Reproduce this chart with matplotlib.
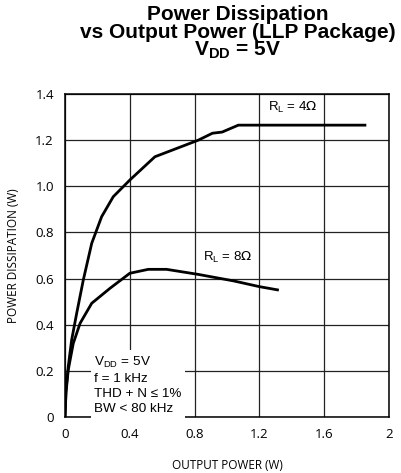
import matplotlib
matplotlib.use('Agg')
import matplotlib.pyplot as plt

# RL = 4 ohm curve
p_out_4 = [0.0, 0.006, 0.02, 0.041, 0.072, 0.113, 0.165, 0.226, 0.298, 0.40, 0.555, 0.823, 0.91, 0.97, 1.07, 1.86]
p_dis_4 = [0.0, 0.117, 0.218, 0.334, 0.449, 0.594, 0.753, 0.868, 0.955, 1.027, 1.128, 1.2, 1.23, 1.235, 1.265, 1.265]

# RL = 8 ohm curve
p_out_8 = [0.0, 0.006, 0.02, 0.051, 0.093, 0.165, 0.278, 0.40, 0.514, 0.627, 0.823, 1.04, 1.2, 1.32]
p_dis_8 = [0.0, 0.104, 0.204, 0.319, 0.406, 0.493, 0.558, 0.623, 0.64, 0.64, 0.618, 0.59, 0.565, 0.55]

xticks = [0, 0.4, 0.8, 1.2, 1.6, 2]
xtick_labels = ['0', '0.4', '0.8', '1.2', '1.6', '2']
yticks = [0, 0.2, 0.4, 0.6, 0.8, 1.0, 1.2, 1.4]
ytick_labels = ['0', '0.2', '0.4', '0.6', '0.8', '1.0', '1.2', '1.4']

fig = plt.figure(figsize=(4.02, 4.73), dpi=100)
ax = fig.add_axes([65/402, 1 - 417/473, 324/402, 323/473])

ax.plot(p_out_4, p_dis_4, color='black', lw=2.0, zorder=3, solid_capstyle='butt')
ax.plot(p_out_8, p_dis_8, color='black', lw=2.0, zorder=3, solid_capstyle='butt')

ax.set_xlim(0, 2)
ax.set_ylim(0, 1.4)
ax.set_xticks(xticks)
ax.set_xticklabels(xtick_labels)
ax.set_yticks(yticks)
ax.set_yticklabels(ytick_labels)
ax.tick_params(length=0, pad=8, labelsize=9.5)
for lbl in ax.get_xticklabels() + ax.get_yticklabels():
    lbl.set_family('Open Sans')
ax.grid(True, color='#222222', lw=0.9, zorder=1)
for s in ax.spines.values():
    s.set_linewidth(1.1)

ax.set_xlabel('OUTPUT POWER (W)', fontsize=8.5, family='Open Sans', labelpad=13)
ax.set_ylabel('POWER DISSIPATION (W)', fontsize=8.5, family='Open Sans', labelpad=11)

ax.text(1.253, 1.34, r'R$_\mathregular{L}$ = 4$\Omega$', fontsize=9.5,
        family='Liberation Sans', va='center')
ax.text(0.85, 0.69, r'R$_\mathregular{L}$ = 8$\Omega$', fontsize=9.5,
        family='Liberation Sans', va='center')

ax.text(0.18, 0.02,
        'V$_\\mathregular{DD}$ = 5V\nf = 1 kHz\nTHD + N \u2264 1%\nBW < 80 kHz',
        fontsize=9.7, family='Liberation Sans', linespacing=1.35, zorder=4,
        bbox=dict(facecolor='white', edgecolor='none', pad=2.5))

fig.text(238/402, 1 - 5/473,
         'Power Dissipation\nvs Output Power (LLP Package)\nV$_\\mathregular{DD}$ = 5V',
         ha='center', va='top', fontsize=15, fontweight='bold',
         family='Liberation Sans', linespacing=0.9)

fig.savefig('out.png', dpi=100)
